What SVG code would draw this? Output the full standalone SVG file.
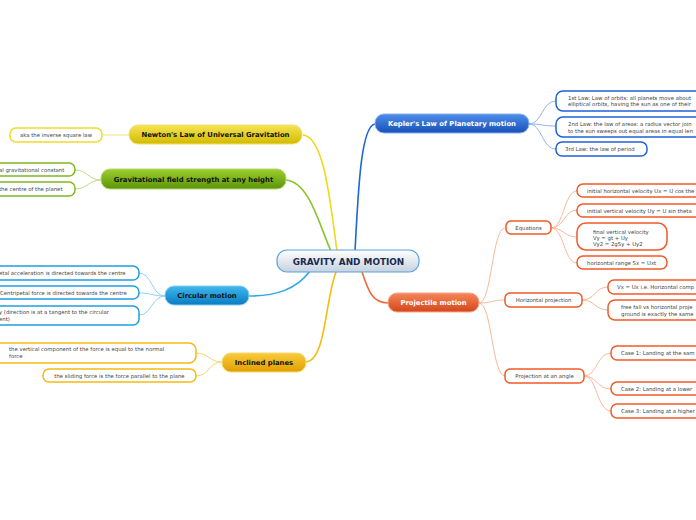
<svg xmlns="http://www.w3.org/2000/svg" width="696" height="520" viewBox="0 0 696 520">
<defs>
<linearGradient id="gC" x1="0" y1="0" x2="0" y2="1"><stop offset="0" stop-color="#ffffff"/><stop offset="1" stop-color="#c5d2df"/></linearGradient>
<linearGradient id="gY" x1="0" y1="0" x2="0" y2="1"><stop offset="0" stop-color="#f6e455"/><stop offset="1" stop-color="#d2ba00"/></linearGradient>
<linearGradient id="gG" x1="0" y1="0" x2="0" y2="1"><stop offset="0" stop-color="#9fcf2e"/><stop offset="1" stop-color="#5a940a"/></linearGradient>
<linearGradient id="gL" x1="0" y1="0" x2="0" y2="1"><stop offset="0" stop-color="#3fb8ee"/><stop offset="1" stop-color="#0a7bc2"/></linearGradient>
<linearGradient id="gA" x1="0" y1="0" x2="0" y2="1"><stop offset="0" stop-color="#f9cc3e"/><stop offset="1" stop-color="#e09e00"/></linearGradient>
<linearGradient id="gK" x1="0" y1="0" x2="0" y2="1"><stop offset="0" stop-color="#4e8ee9"/><stop offset="1" stop-color="#1850b8"/></linearGradient>
<linearGradient id="gP" x1="0" y1="0" x2="0" y2="1"><stop offset="0" stop-color="#f5875c"/><stop offset="1" stop-color="#d4461a"/></linearGradient>
</defs>
<style>
.main{font-family:"DejaVu Sans",Verdana,sans-serif;font-weight:bold;font-size:6.85px;text-anchor:middle;fill:#111}
.mainw{fill:#fff}
.sub{font-family:"DejaVu Sans",Verdana,sans-serif;font-size:5.35px;fill:#444}
.box{fill:#fff;stroke-width:1.5}
.br{fill:none;stroke-width:1.6}
.tw{fill:none;stroke-width:1}
</style>
<g id="connectors">
<path class="br" stroke="#f0d820" d="M303,135 C324,137 330,200 337,251"/>
<path class="br" stroke="#8cc22a" d="M286,180 C310,182 320,228 331,251"/>
<path class="br" stroke="#1f66d8" d="M375,124 C360,126 358,200 355,251"/>
<path class="br" stroke="#2aa8e8" d="M249,296 C275,296 296,290 310,271"/>
<path class="br" stroke="#f5bb10" d="M306,362 C326,360 325,300 336,272"/>
<path class="br" stroke="#ee6a3a" d="M388,303 C372,303 368,290 362,272"/>
<path class="tw" stroke="#f2e27a" d="M129,135 C116,135 116,135 103,135"/>
<path class="tw" stroke="#bfdd85" d="M101,180 C88,180 88,170 75,170 M101,180 C88,180 88,189 75,189"/>
<path class="tw" stroke="#8fd2f2" d="M165,296 C152,296 152,273 139,273 M165,296 C152,296 152,293 139,293 M165,296 C152,296 152,315 139,315"/>
<path class="tw" stroke="#f6d475" d="M222,362 C209,362 209,353 196,353 M222,362 C209,362 209,376 196,376"/>
<path class="tw" stroke="#8fb3f0" d="M529,124 C542,124 542,101 556,101 M529,124 C542,124 542,126 556,126 M529,124 C542,124 542,149 556,149"/>
<path class="tw" stroke="#f9b89c" d="M479,303 C492,303 492,228 505,228 M479,303 C492,303 492,300 505,300 M479,303 C492,303 492,376 505,376"/>
<path class="tw" stroke="#f9b89c" d="M551,228 C564,228 564,191 577,191 M551,228 C564,228 564,210 577,210 M551,228 C564,228 564,237 577,237 M551,228 C564,228 564,263 577,263"/>
<path class="tw" stroke="#f9b89c" d="M582,300 C595,300 595,287 608,287 M582,300 C595,300 595,310 608,310"/>
<path class="tw" stroke="#f9b89c" d="M584,376 C597,376 597,353 611,353 M584,376 C597,376 597,389 611,389 M584,376 C597,376 597,411 611,411"/>
</g>
<g id="center">
<rect x="277" y="250" width="142" height="22" rx="10" fill="url(#gC)" stroke="#5aa2da" stroke-width="1.2"/>
<text x="348.5" y="264.9" class="main" style="font-size:8.9px;fill:#1b2a52">GRAVITY AND MOTION</text>
</g>
<g id="newton">
<rect x="129" y="125" width="173" height="19" rx="9" fill="url(#gY)" stroke="#efe070" stroke-width="1"/>
<text x="215.5" y="137.4" class="main">Newton's Law of Universal Gravitation</text>
</g>
<g id="newton-1">
<rect x="10" y="128" width="92" height="14" rx="6" class="box" stroke="#eedc2a"/>
<text x="56" y="137" class="sub" text-anchor="middle">aka the inverse square law</text>
</g>
<g id="gravfield">
<rect x="101" y="169" width="185" height="20" rx="9" fill="url(#gG)" stroke="#b4d870" stroke-width="1"/>
<text x="193.5" y="181.9" class="main">Gravitational field strength at any height</text>
</g>
<g id="gravfield-1">
<rect x="-60" y="163" width="135" height="13" rx="6" class="box" stroke="#80b820"/>
<text x="-1" y="171.5" class="sub">al gravitational constant</text>
</g>
<g id="gravfield-2">
<rect x="-60" y="182" width="135" height="14" rx="6" class="box" stroke="#80b820"/>
<text x="-1" y="191" class="sub">the centre of the planet</text>
</g>
<g id="circular">
<rect x="165" y="286" width="84" height="19" rx="9" fill="url(#gL)" stroke="#86cdf0" stroke-width="1"/>
<text x="207" y="298.4" class="main">Circular motion</text>
</g>
<g id="circular-1">
<rect x="-60" y="266" width="199" height="14" rx="6" class="box" stroke="#1f9fe2"/>
<text x="-1" y="275" class="sub">etal acceleration is directed towards the centre</text>
</g>
<g id="circular-2">
<rect x="-60" y="286" width="199" height="13" rx="6" class="box" stroke="#1f9fe2"/>
<text x="0" y="294.5" class="sub">Centripetal force is directed towards the centre</text>
</g>
<g id="circular-3">
<rect x="-60" y="306" width="199" height="19" rx="6" class="box" stroke="#1f9fe2"/>
<text x="-1" y="314" class="sub">y (direction is at a tangent to the circular</text>
<text x="-1" y="321" class="sub">ent)</text>
</g>
<g id="inclined">
<rect x="222" y="353" width="84" height="19" rx="9" fill="url(#gA)" stroke="#f8d870" stroke-width="1"/>
<text x="264" y="365.4" class="main">Inclined planes</text>
</g>
<g id="inclined-1">
<rect x="-8" y="343" width="204" height="20" rx="7" class="box" stroke="#f5ba12"/>
<text x="9" y="351.2" class="sub">the vertical component of the force is equal to the normal</text>
<text x="9" y="357.8" class="sub">force</text>
</g>
<g id="inclined-2">
<rect x="43" y="369" width="153" height="13" rx="6" class="box" stroke="#f5ba12"/>
<text x="119.5" y="377.5" class="sub" text-anchor="middle">the sliding force is the force parallel to the plane</text>
</g>
<g id="kepler">
<rect x="375" y="114" width="154" height="19" rx="9" fill="url(#gK)" stroke="#86aef0" stroke-width="1"/>
<text x="452" y="126.4" class="main mainw">Kepler's Law of Planetary motion</text>
</g>
<g id="kepler-1">
<rect x="556" y="91" width="200" height="20" rx="7" class="box" stroke="#1f62d6"/>
<text x="568" y="99.8" class="sub">1st Law: Law of orbits: all planets move about</text>
<text x="568" y="106.4" class="sub">elliptical orbits, having the sun as one of their</text>
</g>
<g id="kepler-2">
<rect x="556" y="117" width="200" height="20" rx="7" class="box" stroke="#1f62d6"/>
<text x="568" y="126" class="sub">2nd Law: the law of areas: a radius vector join</text>
<text x="568" y="132.6" class="sub">to the sun sweeps out equal areas in equal len</text>
</g>
<g id="kepler-3">
<rect x="556" y="142" width="91" height="14" rx="6" class="box" stroke="#1f62d6"/>
<text x="565" y="151" class="sub">3rd Law: the law of period</text>
</g>
<g id="projectile">
<rect x="388" y="293" width="91" height="19" rx="9" fill="url(#gP)" stroke="#f6a888" stroke-width="1"/>
<text x="433.5" y="305.4" class="main mainw">Projectile motion</text>
</g>
<g id="equations">
<rect x="506" y="221" width="45" height="13" rx="5" class="box" stroke="#f05a28"/>
<text x="528.5" y="229.5" class="sub" text-anchor="middle">Equations</text>
</g>
<g id="eq-1">
<rect x="577" y="184" width="160" height="13" rx="6" class="box" stroke="#f05a28"/>
<text x="587" y="192.5" class="sub">initial horizontal velocity Ux = U cos the</text>
</g>
<g id="eq-2">
<rect x="577" y="204" width="160" height="13" rx="6" class="box" stroke="#f05a28"/>
<text x="587" y="212.5" class="sub">initial vertical velocity Uy = U sin theta</text>
</g>
<g id="eq-3">
<rect x="577" y="223" width="90" height="27" rx="9" class="box" stroke="#f05a28"/>
<text x="593" y="233.7" class="sub">final vertical velocity</text>
<text x="593" y="239.7" class="sub">Vy = gt + Uy</text>
<text x="593" y="245.9" class="sub">Vy2 = 2gSy + Uy2</text>
</g>
<g id="eq-4">
<rect x="577" y="256" width="90" height="13" rx="6" class="box" stroke="#f05a28"/>
<text x="587" y="264.5" class="sub">horizontal range Sx = Uxt</text>
</g>
<g id="horizontal">
<rect x="505" y="293" width="77" height="14" rx="5" class="box" stroke="#f05a28"/>
<text x="543.5" y="302" class="sub" text-anchor="middle">Horizontal projection</text>
</g>
<g id="hor-1">
<rect x="608" y="280" width="140" height="14" rx="6" class="box" stroke="#f05a28"/>
<text x="617" y="289" class="sub">Vx = Ux i.e. Horizontal comp</text>
</g>
<g id="hor-2">
<rect x="608" y="300" width="140" height="20" rx="7" class="box" stroke="#f05a28"/>
<text x="621" y="308.5" class="sub">free fall vs horizontal proje</text>
<text x="621" y="315.5" class="sub">ground is exactly the same</text>
</g>
<g id="angle">
<rect x="505" y="369" width="79" height="14" rx="5" class="box" stroke="#f05a28"/>
<text x="544.5" y="378" class="sub" text-anchor="middle">Projection at an angle</text>
</g>
<g id="angle-1">
<rect x="611" y="346" width="140" height="14" rx="6" class="box" stroke="#f05a28"/>
<text x="621" y="355" class="sub">Case 1: Landing at the sam</text>
</g>
<g id="angle-2">
<rect x="611" y="382" width="140" height="13" rx="6" class="box" stroke="#f05a28"/>
<text x="621" y="390.5" class="sub">Case 2: Landing at a lower</text>
</g>
<g id="angle-3">
<rect x="611" y="404" width="140" height="14" rx="6" class="box" stroke="#f05a28"/>
<text x="621" y="413" class="sub">Case 3: Landing at a higher</text>
</g>
</svg>
